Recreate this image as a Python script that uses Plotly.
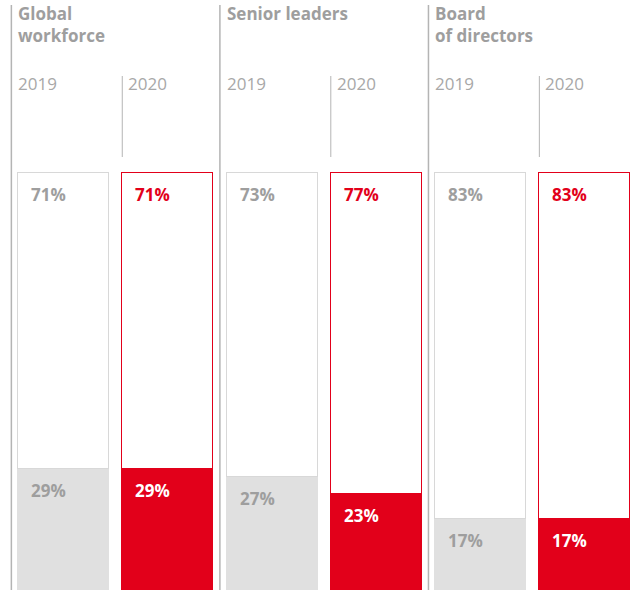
import plotly.graph_objects as go

categories = ["GW 2019", "GW 2020", "SL 2019", "SL 2020", "BD 2019", "BD 2020"]
group_titles = ["Global<br>workforce", "Senior leaders", "Board<br>of directors"]
year_labels = ["2019", "2020", "2019", "2020", "2019", "2020"]
women = [29, 29, 27, 23, 17, 17]
men = [71, 71, 73, 77, 83, 83]

RED = "#e2001a"
LGRAY = "#e0e0e0"
TGRAY = "#9e9e9e"
LINEGRAY = "#b4b4b4"
FONT = "Open Sans"

is2020 = [y == "2020" for y in year_labels]
bot_fill = [RED if f else LGRAY for f in is2020]
top_line = [RED if f else "#d8d8d8" for f in is2020]
bot_text = ["white" if f else TGRAY for f in is2020]
top_text = [RED if f else TGRAY for f in is2020]

BW = 0.873
fig = go.Figure()
fig.add_trace(go.Bar(x=categories, y=women, width=BW,
                     marker=dict(color=bot_fill, line=dict(color=bot_fill, width=1)), hoverinfo="skip"))
fig.add_trace(go.Bar(x=categories, y=men, width=BW,
                     marker=dict(color="white", line=dict(color=top_line, width=1.5)), hoverinfo="skip"))

ann = []
half_px = 45.5
for i, c in enumerate(categories):
    ann.append(dict(x=c, y=women[i] + men[i], xref="x", yref="y", text=f"<b>{men[i]}%</b>",
                    xanchor="left", yanchor="middle", xshift=-half_px + 11, yshift=-21,
                    showarrow=False, font=dict(family=FONT, size=17, color=top_text[i])))
    ann.append(dict(x=c, y=women[i], xref="x", yref="y", text=f"<b>{women[i]}%</b>",
                    xanchor="left", yanchor="middle", xshift=-half_px + 11, yshift=-21,
                    showarrow=False, font=dict(family=FONT, size=17, color=bot_text[i])))
    ann.append(dict(x=c, y=1, xref="x", yref="paper", text=year_labels[i],
                    xanchor="left", yanchor="middle", xshift=-half_px - 2 + (6 if is2020[i] else 0),
                    yshift=171 - 83, showarrow=False, font=dict(family=FONT, size=17, color="#a8a8a8")))

for g, t in enumerate(group_titles):
    c = categories[2 * g]
    nlines = t.count("<br>") + 1
    center = 13 + 11 * (nlines - 1)
    ann.append(dict(x=c, y=1, xref="x", yref="paper", text=f"<b>{t}</b>", align="left",
                    xanchor="left", yanchor="middle", xshift=-half_px - 2,
                    yshift=171 - center, showarrow=False,
                    font=dict(family=FONT, size=17, color=TGRAY)))

PH = 419.0
shapes = []
for g in range(3):
    xpos = 2 * g - 0.5
    shapes.append(dict(type="line", xref="x", yref="paper", x0=xpos, x1=xpos, y0=-0.01, y1=(590 - 5) / PH,
                       line=dict(color=LINEGRAY, width=1.5)))
    xs = 2 * g + 1 - BW / 2
    shapes.append(dict(type="line", xref="x", yref="paper", x0=xs, x1=xs, y0=(590 - 157) / PH, y1=(590 - 76) / PH,
                       line=dict(color=LINEGRAY, width=1)))

fig.update_layout(
    barmode="stack", showlegend=False, width=637, height=590,
    margin=dict(l=0, r=0, t=171, b=0),
    paper_bgcolor="white", plot_bgcolor="white",
    xaxis=dict(type="category", range=[-0.609, 5.5], visible=False),
    yaxis=dict(range=[0, 100.48], visible=False),
    annotations=ann, shapes=shapes, bargap=0,
)
fig.write_html("out.html", post_script="document.body.style.margin='0';",
               config={"displayModeBar": False})
